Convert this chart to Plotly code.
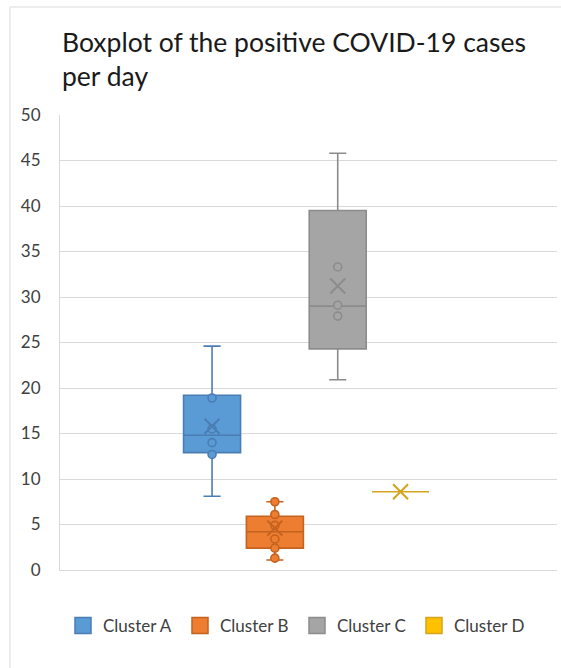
import plotly.graph_objects as go

# Summary statistics per cluster (positive COVID-19 cases per day)
categories = ["Cluster A", "Cluster B", "Cluster C", "Cluster D"]
q1 = [12.9, 2.4, 24.3, 8.6]
median = [14.8, 4.2, 29.0, 8.6]
q3 = [19.2, 5.9, 39.5, 8.6]
lower_whisker = [8.1, 1.1, 20.9, 8.6]
upper_whisker = [24.6, 7.5, 45.8, 8.6]
mean = [15.8, 4.6, 31.2, 8.6]

# Inner data points shown on each box
inner_points = {
    "Cluster A": [18.9, 15.5, 14.0, 12.7],
    "Cluster B": [7.5, 6.1, 4.9, 3.4, 2.4, 1.3],
    "Cluster C": [33.3, 29.1, 27.9],
    "Cluster D": [],
}

y_ticks = [0, 5, 10, 15, 20, 25, 30, 35, 40, 45, 50]

fill_colors = ["#5B9BD5", "#ED7D31", "#A5A5A5", "#FFC000"]
line_colors = ["#4A7DB4", "#C4621F", "#8C8C8C", "#D4A41C"]

FONT = "Lato"

fig = go.Figure()

for i, cat in enumerate(categories):
    fig.add_trace(go.Box(
        x=[cat],
        q1=[q1[i]], median=[median[i]], q3=[q3[i]],
        lowerfence=[lower_whisker[i]], upperfence=[upper_whisker[i]],
        fillcolor=fill_colors[i],
        line=dict(color=line_colors[i], width=1.6),
        width=0.907,
        whiskerwidth=0.3,
        boxpoints=False,
        showlegend=False,
        hoverinfo="skip",
    ))
    pts = inner_points[cat]
    if pts:
        fig.add_trace(go.Scatter(
            x=[cat] * len(pts), y=pts,
            mode="markers",
            marker=dict(symbol="circle", size=8, color=fill_colors[i],
                        line=dict(color=line_colors[i], width=1.6)),
            showlegend=False, hoverinfo="skip",
        ))
    fig.add_trace(go.Scatter(
        x=[cat], y=[mean[i]],
        mode="markers",
        marker=dict(symbol="x-thin", size=15,
                    line=dict(color=line_colors[i], width=2)),
        showlegend=False, hoverinfo="skip",
    ))

# Legend entries as filled squares
for i, cat in enumerate(categories):
    fig.add_trace(go.Scatter(
        x=[None], y=[None], mode="markers", name=cat,
        marker=dict(symbol="square", size=16, color=fill_colors[i],
                    line=dict(color=line_colors[i], width=1.5)),
    ))

L, R, T, B = 60, 4, 115, 98
W, H = 561, 668
pw, ph = W - L - R, H - T - B

fig.update_layout(
    width=W, height=H,
    margin=dict(l=L, r=R, t=T, b=B),
    paper_bgcolor="white",
    plot_bgcolor="white",
    boxmode="overlay",
    font=dict(family=FONT, color="#474747", size=17),
    title=dict(
        text="Boxplot of the positive COVID-19 cases<br>per day",
        font=dict(family=FONT, size=26.5, color="#1a1a1a"),
        xref="paper", x=(62 - L) / pw, xanchor="left",
        yref="container", y=1 - 52 / H, yanchor="top",
    ),
    xaxis=dict(
        type="category",
        categoryorder="array", categoryarray=categories,
        range=[-2.42, 5.49],
        showticklabels=False, showgrid=False, zeroline=False,
        showline=True, linecolor="#D9D9D9", linewidth=1,
        fixedrange=True,
    ),
    yaxis=dict(
        range=[0, 50],
        tickvals=y_ticks,
        showgrid=True, gridcolor="#D9D9D9", gridwidth=1,
        zeroline=False,
        showline=True, linecolor="#D9D9D9", linewidth=1,
        ticks="", ticklabelstandoff=15,
        tickfont=dict(family=FONT, size=17, color="#404040"),
        fixedrange=True,
    ),
    legend=dict(
        orientation="h",
        x=(63 - L) / pw, xanchor="left",
        y=(570 - 626) / ph, yanchor="middle",
        font=dict(family=FONT, size=17, color="#404040"),
        entrywidth=72, entrywidthmode="pixels",
        bgcolor="rgba(0,0,0,0)",
    ),
    shapes=[
        # Light chart-area frame (top and left edges)
        dict(type="line", xref="paper", yref="paper",
             x0=(10 - L) / pw, x1=1.2, y0=1 + (T - 7) / ph, y1=1 + (T - 7) / ph,
             line=dict(color="#D9D9D9", width=1)),
        dict(type="line", xref="paper", yref="paper",
             x0=(10 - L) / pw, x1=(10 - L) / pw, y0=-0.4, y1=1 + (T - 7) / ph,
             line=dict(color="#D9D9D9", width=1)),
    ],
)

fig.write_html("out.html")
